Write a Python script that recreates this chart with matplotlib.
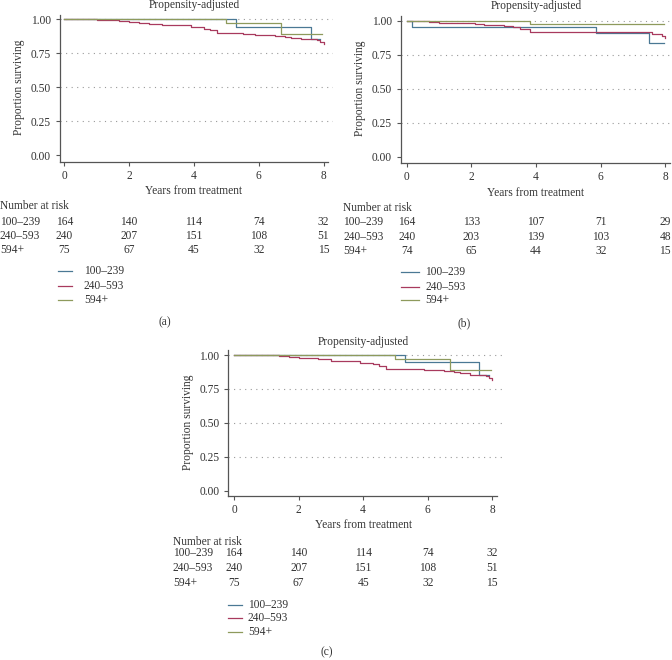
import matplotlib
matplotlib.use("Agg")
import matplotlib.pyplot as plt

plt.rcParams['font.family'] = ['Liberation Serif', 'DejaVu Serif']

W, H = 672, 660

groups = ["100–239", "240–593", "594+"]
colors = ["#4a7894", "#a83a5e", "#8e9a5c"]
risk_times = [0, 2, 4, 6, 8]

# Panel (a) / (c) step curves: (times, survival)
a_blue_t = [0, 5.3, 7.6, 7.9]
a_blue_s = [1.0, 0.946, 0.853, 0.853]
a_red_t = [0, 1.0, 1.4, 1.7, 2.0, 2.3, 2.6, 3.0, 3.5, 3.9, 4.3, 4.5, 4.7, 5.5, 5.9, 6.5, 6.8, 7.0, 7.3, 7.8, 7.9, 8.0]
a_red_s = [1.0, 0.997, 0.993, 0.985, 0.98, 0.975, 0.967, 0.958, 0.955, 0.94, 0.93, 0.92, 0.90, 0.895, 0.887, 0.88, 0.873, 0.865, 0.853, 0.848, 0.83, 0.815]
a_green_t = [0, 5.0, 6.7, 7.95]
a_green_s = [1.0, 0.97, 0.89, 0.89]

b_blue_t = [0, 0.15, 5.85, 7.5, 7.95]
b_blue_s = [1.0, 0.956, 0.913, 0.835, 0.835]
b_red_t = [0, 0.7, 1.0, 2.1, 2.4, 3.0, 3.3, 3.5, 3.8, 7.6, 7.9, 8.0]
b_red_s = [1.0, 0.99, 0.985, 0.975, 0.965, 0.96, 0.95, 0.94, 0.915, 0.903, 0.89, 0.87]
b_green_t = [0, 3.8, 7.95]
b_green_s = [1.0, 0.976, 0.976]

a_risk = [[164, 140, 114, 74, 32], [240, 207, 151, 108, 51], [75, 67, 45, 32, 15]]
b_risk = [[164, 133, 107, 71, 29], [240, 203, 139, 103, 48], [74, 65, 44, 32, 15]]

fig = plt.figure(figsize=(W / 100, H / 100), dpi=100)

FS = 8.3
GRAY = "#555555"
TXT = "#333333"


def fx(px):
    return px / W


def fy(py):
    return 1 - py / H


def panel(tag, x0, x8, y1, y0, spine_x, bottom_y, curves, risk, label_x, rows_y, nar_y,
          leg_x0, leg_x1, leg_tx, leg_y, tag_x, tag_y, title_y, xlabel_y):
    ppu_x = (x8 - x0) / 8.0
    ppu_y = (y0 - y1)
    xmin = (spine_x - x0) / ppu_x
    xmax = 8.3
    ymin = -(bottom_y - y0) / ppu_y
    ymax = 1.045
    left = x0 + xmin * ppu_x
    right = x0 + xmax * ppu_x
    top = y0 - ymax * ppu_y
    ax = fig.add_axes([fx(left), fy(bottom_y), fx(right - left), (bottom_y - top) / H])
    ax.set_xlim(xmin, xmax)
    ax.set_ylim(ymin, ymax)
    for sp in ["top", "right"]:
        ax.spines[sp].set_visible(False)
    for sp in ["left", "bottom"]:
        ax.spines[sp].set_color(GRAY)
        ax.spines[sp].set_linewidth(0.9)
    ax.spines["bottom"].set_bounds(xmin, 8.15)
    ax.spines["left"].set_bounds(ymin, 1.035)
    ax.set_xticks(risk_times)
    ax.set_yticks([0, 0.25, 0.5, 0.75, 1.0])
    ax.set_yticklabels(["0.00", "0.25", "0.50", "0.75", "1.00"])
    ax.tick_params(axis="both", labelsize=FS, color=GRAY, length=3, width=0.8, pad=3,
                   labelcolor=TXT)
    for yv in [0.25, 0.5, 0.75, 1.0]:
        ax.axhline(yv, color="#999999", lw=0.8, ls=(0, (1, 4)), zorder=0)
    for (t, s), c in zip(curves, colors):
        ax.step(t, s, where="post", color=c, lw=0.9)
    ax.set_ylabel("Proportion surviving", fontsize=FS, color=TXT, labelpad=4)
    cx = (x0 + x8) / 2
    fig.text(fx(cx), fy(title_y), "Propensity-adjusted", fontsize=FS, ha="center",
             va="center", color=TXT)
    fig.text(fx(cx), fy(xlabel_y), "Years from treatment", fontsize=FS, ha="center",
             va="center", color=TXT)
    fig.text(fx(label_x), fy(nar_y), "Number at risk", fontsize=FS, ha="left",
             va="center", color=TXT)
    for g, vals, ry in zip(groups, risk, rows_y):
        fig.text(fx(label_x), fy(ry), g, fontsize=FS, ha="left", va="center", color=TXT)
        for t, v in zip(risk_times, vals):
            fig.text(fx(x0 + t * ppu_x), fy(ry), str(v), fontsize=FS, ha="center",
                     va="center", color=TXT)
    for g, c, ly in zip(groups, colors, leg_y):
        fig.add_artist(plt.Line2D([fx(leg_x0), fx(leg_x1)], [fy(ly), fy(ly)], color=c, lw=0.9))
        fig.text(fx(leg_tx), fy(ly), g, fontsize=FS, ha="left", va="center", color=TXT)
    fig.text(fx(tag_x), fy(tag_y), tag, fontsize=FS, ha="center", va="center", color=TXT)


a_curves = [(a_blue_t, a_blue_s), (a_red_t, a_red_s), (a_green_t, a_green_s)]
b_curves = [(b_blue_t, b_blue_s), (b_red_t, b_red_s), (b_green_t, b_green_s)]

panel("(a)", 64.3, 323.5, 19.3, 155.3, 59.5, 162, a_curves, a_risk, 0, [222, 236, 250], 206,
      58, 72, 84, [271, 286, 300], 165, 322, 5, 191)
panel("(b)", 406.7, 665.3, 20.7, 156.7, 400.5, 162.7, b_curves, b_risk, 343, [222, 237, 251], 208,
      401, 419, 425, [272, 287, 300], 464, 323, 6, 193)
panel("(c)", 234, 492.3, 355, 490.5, 228, 496, a_curves, a_risk, 173, [553, 568, 583], 542,
      228, 242, 248, [605, 618, 632], 327, 652, 342, 525)

fig.savefig("out.png", dpi=100)
